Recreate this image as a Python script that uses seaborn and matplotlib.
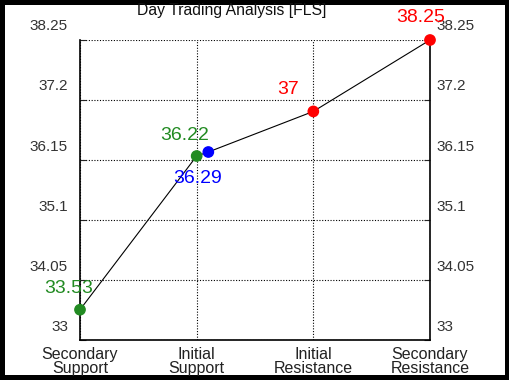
import matplotlib
matplotlib.use("Agg")
import matplotlib.pyplot as plt
import matplotlib.transforms as mtransforms
import seaborn as sns
import pandas as pd

# data
categories = ["Secondary\nSupport", "Initial\nSupport", "Initial\nResistance", "Secondary\nResistance"]
point_pos = [0, 1, 1.1, 2, 3]
point_vals = [33.53, 36.22, 36.29, 37.0, 38.25]
point_text = ["33.53", "36.22", "36.29", "37", "38.25"]
point_colors = ["#228B22", "#228B22", "#0000FF", "#FF0000", "#FF0000"]
yticks = [33, 34.05, 35.1, 36.15, 37.2, 38.25]
ytick_labels = ["33", "34.05", "35.1", "36.15", "37.2", "38.25"]

sns.set_style("white")
plt.rcParams["font.family"] = ["Liberation Sans", "DejaVu Sans"]

df = pd.DataFrame({"pos": point_pos, "val": point_vals})

fig = plt.figure(figsize=(5.1, 3.8), dpi=100)
fig.patch.set_edgecolor("black")
fig.patch.set_linewidth(7)
ax = fig.add_axes([80 / 510, 40 / 380, 350 / 510, 300 / 380])

sns.lineplot(data=df, x="pos", y="val", color="black", lw=0.8, ax=ax, zorder=3)
ax.scatter(point_pos, point_vals, c=point_colors, s=55, zorder=4, clip_on=False)

ax.set_xlim(0, 3)
ax.set_ylim(33, 38.25)
ax.set_xticks(range(len(categories)))
ax.set_xticklabels(categories, fontsize=11.5, color="#222222", linespacing=0.95)
ax.set_yticks(yticks)
ax.set_yticklabels(ytick_labels, fontsize=11, color="#333333")
ax.set_xlabel("")
ax.set_ylabel("")

ax.grid(True, color="black", linestyle=(0, (1, 1.5)), linewidth=0.8)
ax.tick_params(axis="y", direction="in", length=4, left=True, right=True,
               labelleft=True, labelright=True, pad=5)
ax.tick_params(axis="x", direction="in", length=0, pad=5)

# y labels sit above their grid lines
left_shift = mtransforms.ScaledTranslation(-5 / 100, 15 / 100, fig.dpi_scale_trans)
right_shift = mtransforms.ScaledTranslation(0, 15 / 100, fig.dpi_scale_trans)
for tick in ax.yaxis.get_major_ticks():
    tick.label1.set_transform(tick.label1.get_transform() + left_shift)
    tick.label2.set_transform(tick.label2.get_transform() + right_shift)

for sp in ["left", "right", "bottom"]:
    ax.spines[sp].set_color("black")
    ax.spines[sp].set_linewidth(1.2)
ax.spines["top"].set_visible(False)

# value annotations (offsets in points)
offsets = [(-8, 15), (-9, 15), (-8, -19), (-18, 16), (-7, 16)]
for x, y, t, c, (dx, dy) in zip(point_pos, point_vals, point_text, point_colors, offsets):
    ax.annotate(t, (x, y), xytext=(dx, dy), textcoords="offset points",
                ha="center", va="center", color=c, fontsize=14, annotation_clip=False)

fig.text(232 / 510, 1 - 11 / 380, "Day Trading Analysis [FLS]", ha="center", va="center",
         fontsize=11.3, color="#111111")

fig.savefig("out.png", dpi=100)
